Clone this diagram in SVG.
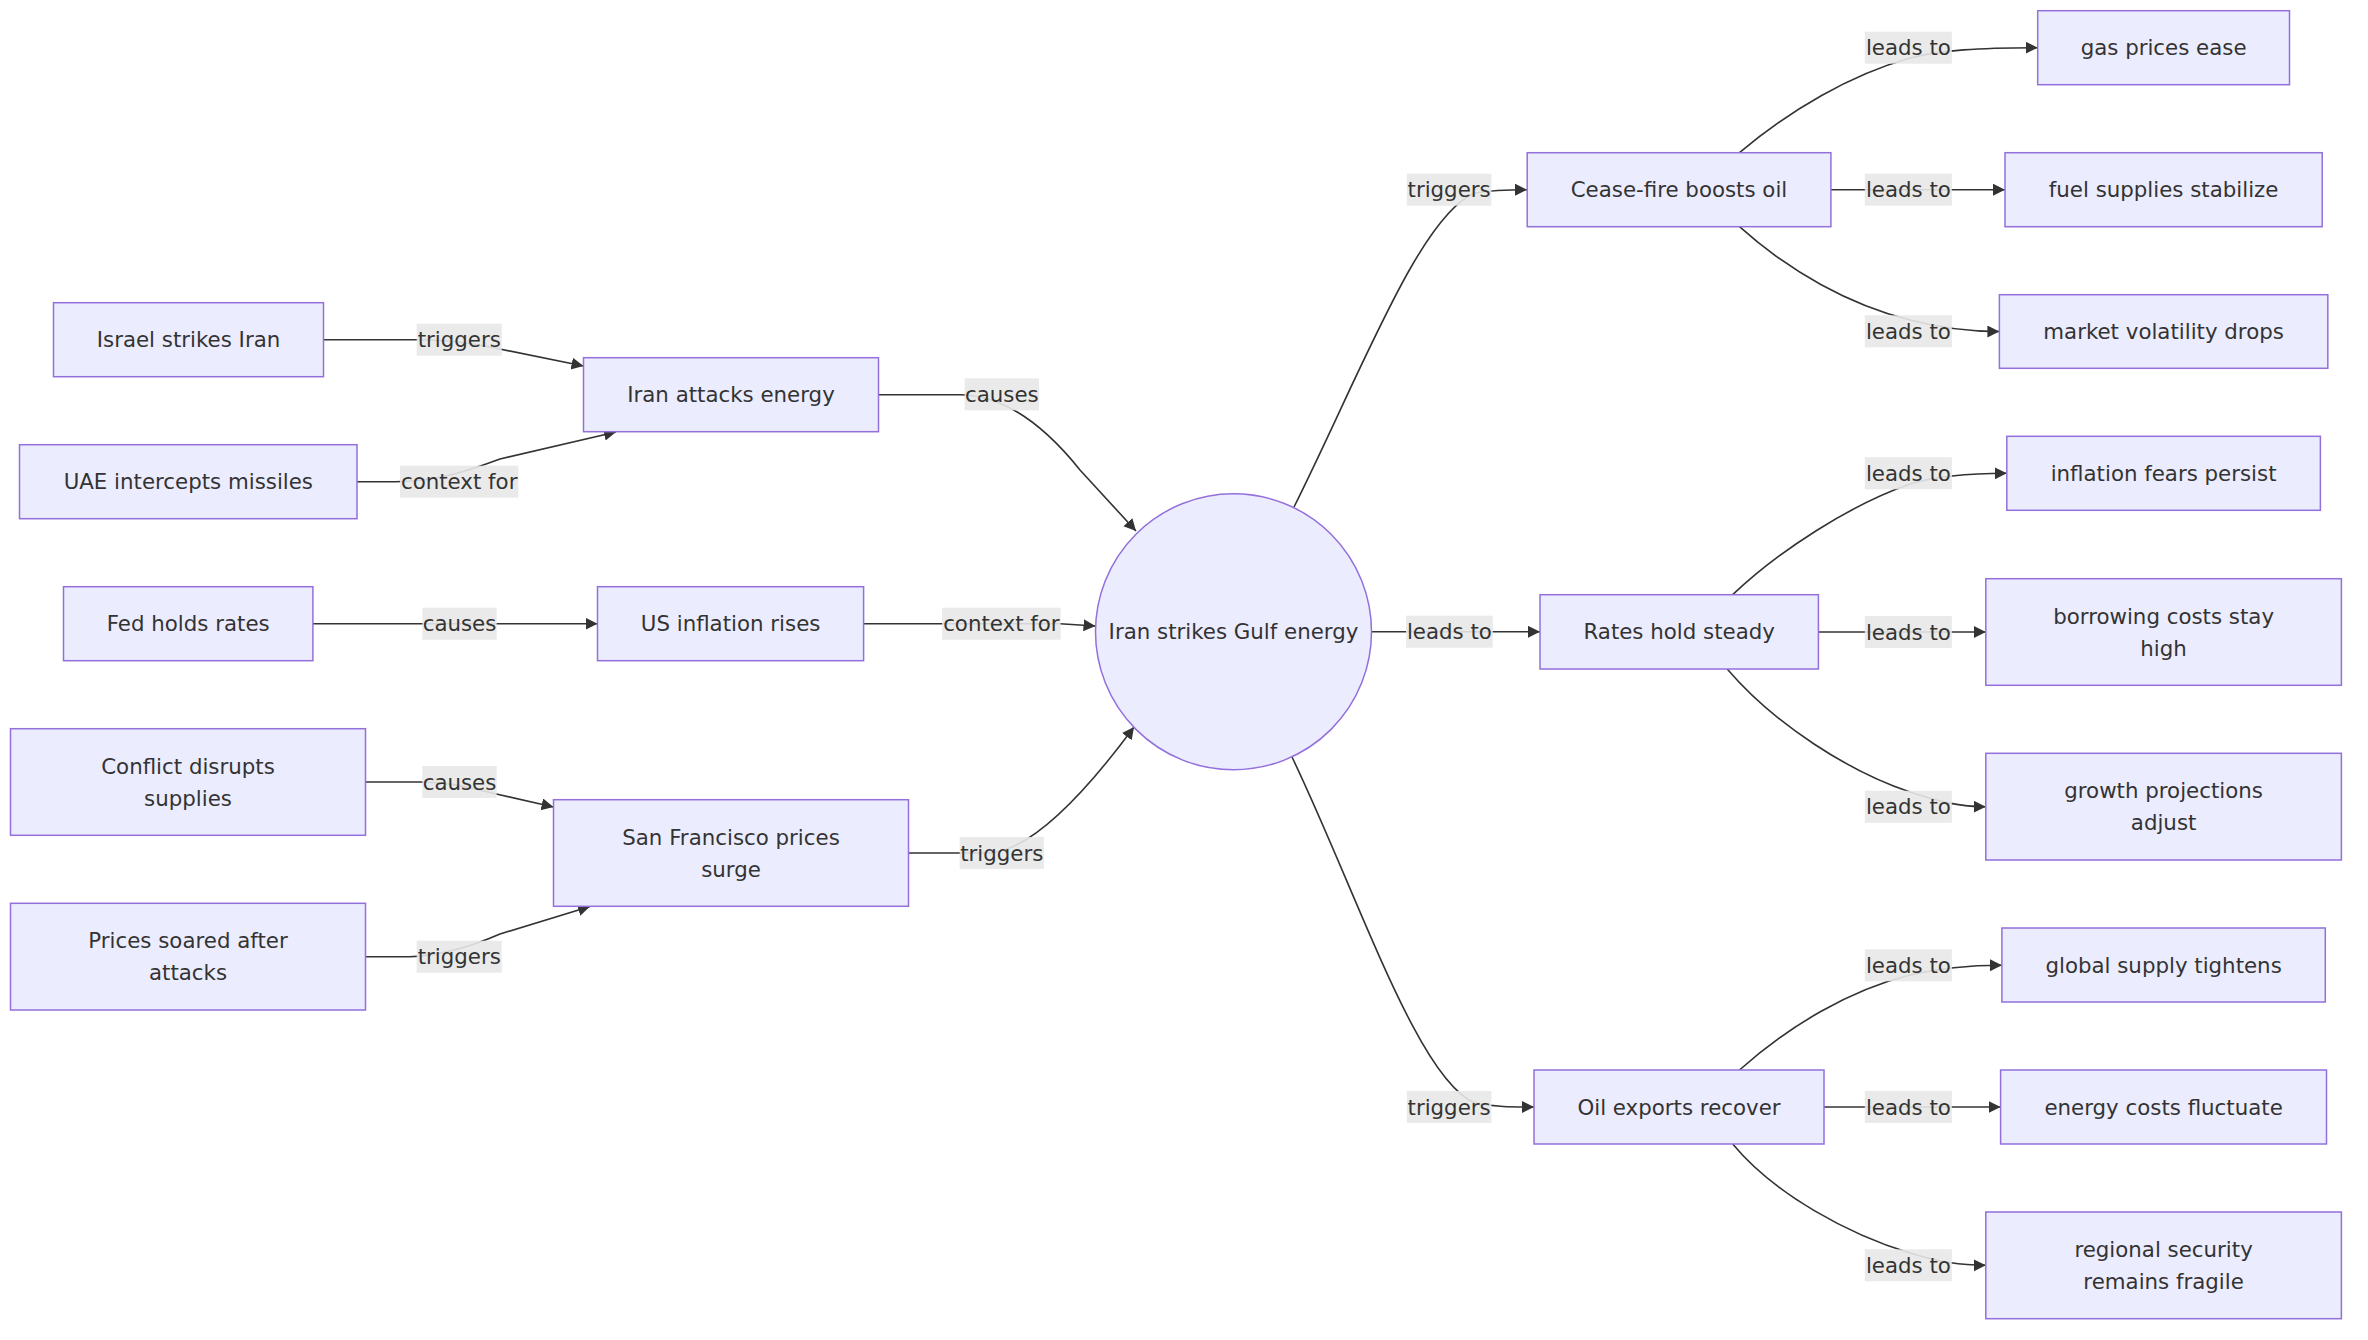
<svg xmlns="http://www.w3.org/2000/svg" width="2368" height="1340" viewBox="0 0 2368 1340">
<defs>
<marker id="arr" markerUnits="userSpaceOnUse" markerWidth="13" markerHeight="13" refX="12" refY="6" orient="auto">
<path d="M0,0 L12,6 L0,12 z" fill="#333333"/>
</marker>
<style>
.node rect, .node circle { fill:#ECECFF; stroke:#9370DB; stroke-width:1.5; }
.node text { font-family:"DejaVu Sans", sans-serif; font-size:21.33px; fill:#333333; text-anchor:middle; dominant-baseline:central; }
.edges path { fill:none; stroke:#333333; stroke-width:1.6; marker-end:url(#arr); }
.lbl rect { fill:#e8e8e8; fill-opacity:0.9; }
.lbl text { font-family:"DejaVu Sans", sans-serif; font-size:21.33px; fill:#333333; text-anchor:middle; dominant-baseline:central; }
</style>
</defs>
<rect width="2368" height="1340" fill="#ffffff"/>

<g id="connectors" class="edges">
<path d="M323.5,339.7 L420,339.7 C445,339.7 465,342 490,347 L583.5,366"/>
<path d="M357,481.7 L395,481.7 C435,481.7 465,472 500,459 L616,432"/>
<path d="M878.5,394.7 L960,394.7 C1000,395 1040,420 1080,470 L1136,531"/>
<path d="M312.9,623.7 L597.5,623.7"/>
<path d="M863.6,623.7 L1060,623.7 L1095.5,626"/>
<path d="M365.5,782 L420,782 C445,782 465,786 492,793 L553.5,807"/>
<path d="M365.5,956.7 L410,956.7 C440,956 470,947 500,934 L590,906.5"/>
<path d="M908.5,853 L990,853 C1030,850 1080,800 1134,727"/>
<path d="M1294,507 C1360,375 1420,215 1475,193 C1495,189.7 1510,189.7 1527,189.7"/>
<path d="M1371.5,631.8 L1540,631.8"/>
<path d="M1292,757 C1358,895 1418,1080 1475,1103 C1495,1107 1510,1107 1534,1107"/>
<path d="M1739.5,152.7 C1790,110 1850,75 1910,58 C1940,50 1980,47.7 2037.7,47.7"/>
<path d="M1830.9,189.7 L2005,189.7"/>
<path d="M1739.5,226.7 C1790,272 1850,305 1910,320 C1940,328 1970,331.5 1999.4,331.5"/>
<path d="M1732.7,594.7 C1780,550 1850,505 1910,484 C1940,475 1975,473.3 2006.8,473.3"/>
<path d="M1818.4,632 L1985.8,632"/>
<path d="M1727.2,669 C1775,725 1850,772 1910,792 C1940,802 1960,806.7 1985.8,806.7"/>
<path d="M1739.5,1070 C1790,1025 1850,990 1910,975 C1940,968 1970,965.3 2001.9,965.3"/>
<path d="M1824,1107 L2000.6,1107"/>
<path d="M1732.7,1144 C1775,1195 1850,1235 1910,1253 C1940,1262 1960,1265.3 1985.8,1265.3"/>
</g>

<g id="edge-labels">
<g class="lbl"><rect x="416.7" y="323.7" width="85" height="32"/><text x="459.2" y="339.7">triggers</text></g>
<g class="lbl"><rect x="400" y="465.7" width="118.4" height="32"/><text x="459.2" y="481.7">context for</text></g>
<g class="lbl"><rect x="964.6" y="378.3" width="74.4" height="32"/><text x="1001.8" y="394.3">causes</text></g>
<g class="lbl"><rect x="422.3" y="607.7" width="74.4" height="32"/><text x="459.5" y="623.7">causes</text></g>
<g class="lbl"><rect x="942.1" y="607.7" width="118.6" height="32"/><text x="1001.4" y="623.7">context for</text></g>
<g class="lbl"><rect x="422.3" y="766" width="74.4" height="32"/><text x="459.5" y="782">causes</text></g>
<g class="lbl"><rect x="416.7" y="940.7" width="85" height="32"/><text x="459.2" y="956.7">triggers</text></g>
<g class="lbl"><rect x="959.7" y="837" width="84.2" height="32"/><text x="1001.8" y="853">triggers</text></g>
<g class="lbl"><rect x="1406.8" y="173.7" width="84.6" height="32"/><text x="1449.1" y="189.7">triggers</text></g>
<g class="lbl"><rect x="1406" y="615.7" width="86.8" height="32"/><text x="1449.4" y="631.7">leads to</text></g>
<g class="lbl"><rect x="1406.8" y="1091" width="84.6" height="32"/><text x="1449.1" y="1107">triggers</text></g>
<g class="lbl"><rect x="1864.8" y="31.7" width="87.1" height="32"/><text x="1908.4" y="47.7">leads to</text></g>
<g class="lbl"><rect x="1864.8" y="173.7" width="87.1" height="32"/><text x="1908.4" y="189.7">leads to</text></g>
<g class="lbl"><rect x="1864.8" y="315.3" width="87.1" height="32"/><text x="1908.4" y="331.3">leads to</text></g>
<g class="lbl"><rect x="1864.8" y="457.3" width="87.1" height="32"/><text x="1908.4" y="473.3">leads to</text></g>
<g class="lbl"><rect x="1864.8" y="616" width="87.1" height="32"/><text x="1908.4" y="632">leads to</text></g>
<g class="lbl"><rect x="1864.8" y="790.7" width="87.1" height="32"/><text x="1908.4" y="806.7">leads to</text></g>
<g class="lbl"><rect x="1864.8" y="949.3" width="87.1" height="32"/><text x="1908.4" y="965.3">leads to</text></g>
<g class="lbl"><rect x="1864.8" y="1091" width="87.1" height="32"/><text x="1908.4" y="1107">leads to</text></g>
<g class="lbl"><rect x="1864.8" y="1249.3" width="87.1" height="32"/><text x="1908.4" y="1265.3">leads to</text></g>
</g>

<g id="n-israel" class="node"><rect x="53.5" y="302.7" width="270" height="74"/><text x="188.5" y="339.7">Israel strikes Iran</text></g>
<g id="n-uae" class="node"><rect x="19.5" y="444.7" width="337.5" height="74"/><text x="188.3" y="481.7">UAE intercepts missiles</text></g>
<g id="n-iranattacks" class="node"><rect x="583.5" y="357.7" width="295" height="74"/><text x="731" y="394.7">Iran attacks energy</text></g>
<g id="n-fed" class="node"><rect x="63.5" y="586.7" width="249.4" height="74"/><text x="188.2" y="623.7">Fed holds rates</text></g>
<g id="n-usinfl" class="node"><rect x="597.5" y="586.7" width="266.1" height="74"/><text x="730.6" y="623.7">US inflation rises</text></g>
<g id="n-conflict" class="node"><rect x="10.5" y="728.7" width="355" height="106.6"/><text x="188" y="766">Conflict disrupts</text><text x="188" y="798">supplies</text></g>
<g id="n-sf" class="node"><rect x="553.5" y="799.7" width="355" height="106.6"/><text x="731" y="837">San Francisco prices</text><text x="731" y="869">surge</text></g>
<g id="n-soared" class="node"><rect x="10.5" y="903.3" width="355" height="106.7"/><text x="188" y="940.7">Prices soared after</text><text x="188" y="972.7">attacks</text></g>
<g id="n-center" class="node"><circle cx="1233.5" cy="631.8" r="138"/><text x="1233.5" y="631.8">Iran strikes Gulf energy</text></g>
<g id="n-ceasefire" class="node"><rect x="1527.2" y="152.7" width="303.7" height="74"/><text x="1679" y="189.7">Cease-fire boosts oil</text></g>
<g id="n-rates" class="node"><rect x="1540" y="594.7" width="278.4" height="74.3"/><text x="1679.2" y="631.8">Rates hold steady</text></g>
<g id="n-oil" class="node"><rect x="1534" y="1070" width="290" height="74"/><text x="1679" y="1107">Oil exports recover</text></g>
<g id="n-gas" class="node"><rect x="2037.7" y="10.7" width="251.8" height="74"/><text x="2163.6" y="47.7">gas prices ease</text></g>
<g id="n-fuel" class="node"><rect x="2005" y="152.7" width="317.2" height="74"/><text x="2163.6" y="189.7">fuel supplies stabilize</text></g>
<g id="n-market" class="node"><rect x="1999.4" y="294.7" width="328.4" height="73.6"/><text x="2163.6" y="331.5">market volatility drops</text></g>
<g id="n-inflfears" class="node"><rect x="2006.8" y="436.3" width="313.6" height="74"/><text x="2163.6" y="473.3">inflation fears persist</text></g>
<g id="n-borrow" class="node"><rect x="1985.8" y="578.7" width="355.6" height="106.6"/><text x="2163.6" y="616">borrowing costs stay</text><text x="2163.6" y="648">high</text></g>
<g id="n-growth" class="node"><rect x="1985.8" y="753.3" width="355.6" height="106.7"/><text x="2163.6" y="790.7">growth projections</text><text x="2163.6" y="822.7">adjust</text></g>
<g id="n-global" class="node"><rect x="2001.9" y="928" width="323.4" height="74"/><text x="2163.6" y="965">global supply tightens</text></g>
<g id="n-energy" class="node"><rect x="2000.6" y="1070" width="325.9" height="74"/><text x="2163.6" y="1107">energy costs fluctuate</text></g>
<g id="n-regional" class="node"><rect x="1985.8" y="1212" width="355.6" height="106.7"/><text x="2163.6" y="1249.3">regional security</text><text x="2163.6" y="1281.3">remains fragile</text></g>
</svg>
